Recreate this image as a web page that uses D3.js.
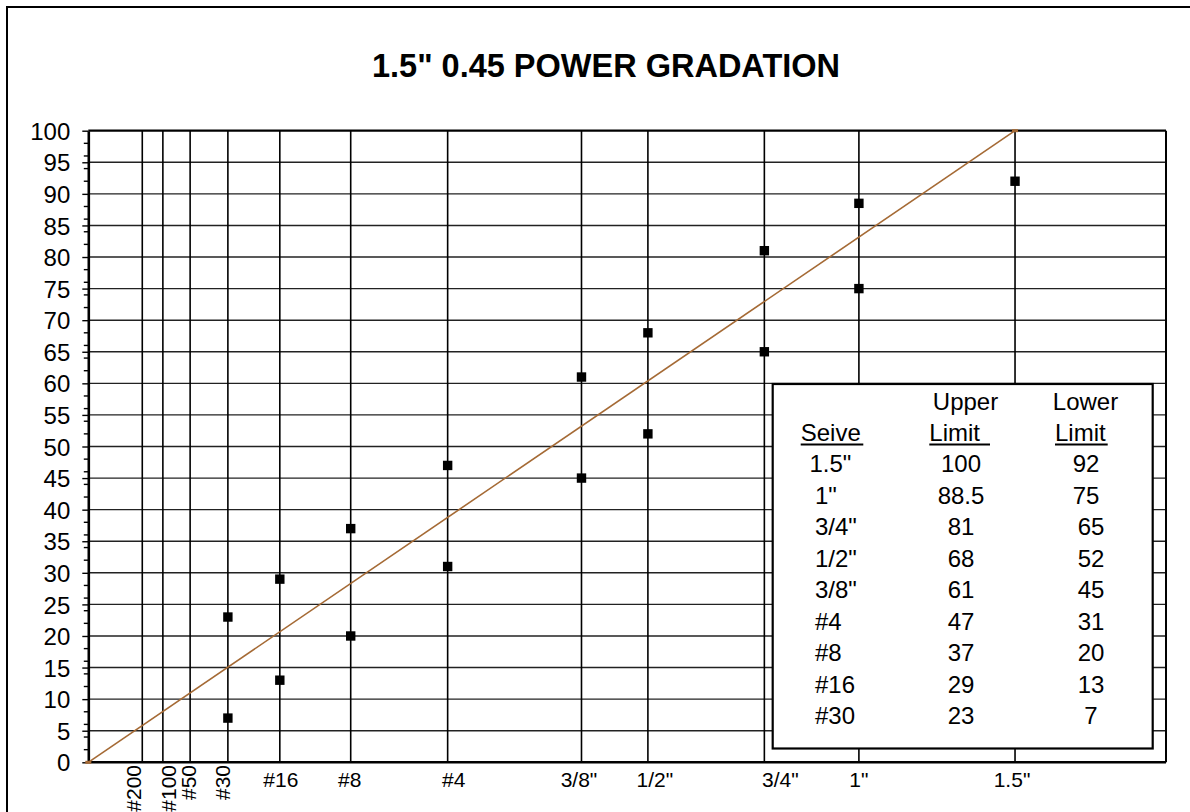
<!DOCTYPE html>
<html>
<head>
<meta charset="utf-8">
<script src="https://cdn.jsdelivr.net/npm/d3@7"></script>
<style>
  html, body { margin: 0; padding: 0; background: #fff; }
  svg { display: block; font-family: "Liberation Sans", Arial, sans-serif; }
</style>
</head>
<body>
<svg id="chart" width="1190" height="812"></svg>
<script>
// ---------------- data ----------------
const title = '1.5" 0.45 POWER GRADATION';
const sieveLabels = ['#200', '#100', '#50', '#30', '#16', '#8', '#4', '3/8"', '1/2"', '3/4"', '1"', '1.5"'];
const sieveSizeIn = [0.0029, 0.0059, 0.0117, 0.0234, 0.0469, 0.0937, 0.187, 0.375, 0.495, 0.75, 1, 1.5];
const gradedSieves = ['1.5"', '1"', '3/4"', '1/2"', '3/8"', '#4', '#8', '#16', '#30'];
const upperLimit = [100, 88.5, 81, 68, 61, 47, 37, 29, 23];
const lowerLimit = [92, 75, 65, 52, 45, 31, 20, 13, 7];
const maxDensity = [[0, 0], [1.5, 100]];
const yTickValues = d3.range(0, 101, 5);
const yMinorValues = d3.range(0, 101, 2);

// ---------------- layout / style ----------------
const svg = d3.select('#chart');
const L = 88.3, R = 1166, T = 130.7, B = 762.3;
const rotatedLabels = new Set(['#200', '#100', '#50', '#30']);
const labelDx = {'#200': -1, '#100': 13, '#50': 6, '#30': 2, '#16': 1, '#8': -1, '#4': 6,
                 '3/8"': -2.5, '1/2"': 7, '3/4"': 16, '1"': 0, '1.5"': -3};
const lineColor = '#a56a35';

const x = d3.scalePow().exponent(0.455).domain([0, 2.09]).range([L, R]);
const y = d3.scaleLinear().domain([0, 100]).range([B, T]);
const sizeOf = Object.fromEntries(sieveLabels.map((s, i) => [s, sieveSizeIn[i]]));

// outer frame (right/bottom edges fall outside the window)
svg.append('rect').attr('x', 7).attr('y', 7).attr('width', 1205).attr('height', 830)
  .attr('fill', '#fff').attr('stroke', '#000').attr('stroke-width', 2);

// title
svg.append('text').attr('x', 606).attr('y', 76.5).attr('text-anchor', 'middle')
  .attr('font-size', 32.5).attr('font-weight', 'bold').attr('fill', '#000').text(title);

// horizontal grid
svg.append('g').selectAll('line').data(yTickValues.filter(v => v > 0 && v < 100)).join('line')
  .attr('x1', L).attr('x2', R).attr('y1', d => y(d)).attr('y2', d => y(d))
  .attr('stroke', '#222').attr('stroke-width', 1.4);

// vertical sieve lines
svg.append('g').selectAll('line').data(sieveSizeIn).join('line')
  .attr('x1', d => x(d)).attr('x2', d => x(d)).attr('y1', y(0)).attr('y2', y(100))
  .attr('stroke', '#000').attr('stroke-width', 1.6);

// plot frame
svg.append('line').attr('x1', L).attr('x2', R).attr('y1', T).attr('y2', T).attr('stroke', '#000').attr('stroke-width', 2.2);
svg.append('line').attr('x1', R).attr('x2', R).attr('y1', T).attr('y2', B).attr('stroke', '#000').attr('stroke-width', 2);

// y axis
const yAxis = d3.axisLeft(y).tickValues(yTickValues).tickSize(6).tickPadding(12).tickSizeOuter(0);
const gy = svg.append('g').attr('transform', `translate(${L},0)`).call(yAxis);
gy.select('.domain').attr('stroke', '#000').attr('stroke-width', 2.6);
gy.selectAll('.tick line').attr('stroke', '#000').attr('stroke-width', 1.4);
gy.selectAll('.tick text').attr('font-size', 24).attr('fill', '#000')
  .attr('font-family', '"Liberation Sans", Arial, sans-serif').attr('dy', '0.36em');
svg.append('g').attr('transform', `translate(${L},0)`).selectAll('line')
  .data(yMinorValues.filter(v => v % 5 !== 0)).join('line')
  .attr('x1', -4.5).attr('x2', 0).attr('y1', d => y(d)).attr('y2', d => y(d))
  .attr('stroke', '#000').attr('stroke-width', 1.4);

// x axis line
svg.append('line').attr('x1', L).attr('x2', R).attr('y1', B).attr('y2', B).attr('stroke', '#000').attr('stroke-width', 2.4);

// x labels
const xl = svg.append('g').attr('font-size', 21).attr('fill', '#000');
sieveLabels.forEach((s, i) => {
  const px = x(sieveSizeIn[i]) + labelDx[s];
  if (rotatedLabels.has(s)) {
    xl.append('text').attr('transform', `translate(${px},765) rotate(-90)`)
      .attr('text-anchor', 'end').text(s);
  } else {
    xl.append('text').attr('x', px).attr('y', 787).attr('text-anchor', 'middle').text(s);
  }
});

// maximum density line
svg.append('line')
  .attr('x1', x(maxDensity[0][0])).attr('y1', y(maxDensity[0][1]))
  .attr('x2', x(maxDensity[1][0])).attr('y2', y(maxDensity[1][1]))
  .attr('stroke', lineColor).attr('stroke-width', 1.6);
svg.append('g').selectAll('rect').data(maxDensity).join('rect')
  .attr('x', d => x(d[0]) - 3).attr('y', d => y(d[1]) - 1.5).attr('width', 6).attr('height', 3)
  .attr('fill', lineColor);

// markers (upper limit at 100 sits on the frame and is not drawn)
const pts = [];
gradedSieves.forEach((s, i) => {
  if (upperLimit[i] < 100) pts.push([sizeOf[s], upperLimit[i]]);
  pts.push([sizeOf[s], lowerLimit[i]]);
});
svg.append('g').selectAll('rect').data(pts).join('rect')
  .attr('x', d => x(d[0]) - 4.7).attr('y', d => y(d[1]) - 4.7).attr('width', 9.4).attr('height', 9.4)
  .attr('fill', '#000');

// legend table
const lg = svg.append('g').attr('font-size', 24).attr('fill', '#000');
lg.append('rect').attr('x', 772.7).attr('y', 384).attr('width', 380).attr('height', 364.5)
  .attr('fill', '#fff').attr('stroke', '#000').attr('stroke-width', 2.2);
lg.append('text').attr('x', 965.5).attr('y', 410).attr('text-anchor', 'middle').text('Upper');
lg.append('text').attr('x', 1085.5).attr('y', 410).attr('text-anchor', 'middle').text('Lower');
const heads = [[800.7, 'Seive', 62.6], [929.3, 'Limit', 60.7], [1055, 'Limit', 52.7]];
heads.forEach(([hx, t, w]) => {
  lg.append('text').attr('x', hx).attr('y', 440.5).text(t);
  lg.append('line').attr('x1', hx).attr('x2', hx + w).attr('y1', 444.5).attr('y2', 444.5)
    .attr('stroke', '#000').attr('stroke-width', 1.8);
});
gradedSieves.forEach((s, i) => {
  const by = 472 + i * 31.55;
  lg.append('text').attr('x', s === '1.5"' ? 809.5 : 815).attr('y', by).text(s);
  lg.append('text').attr('x', 961).attr('y', by).attr('text-anchor', 'middle').text(upperLimit[i]);
  lg.append('text').attr('x', i < 2 ? 1086 : 1091).attr('y', by).attr('text-anchor', 'middle').text(lowerLimit[i]);
});
</script>
</body>
</html>
